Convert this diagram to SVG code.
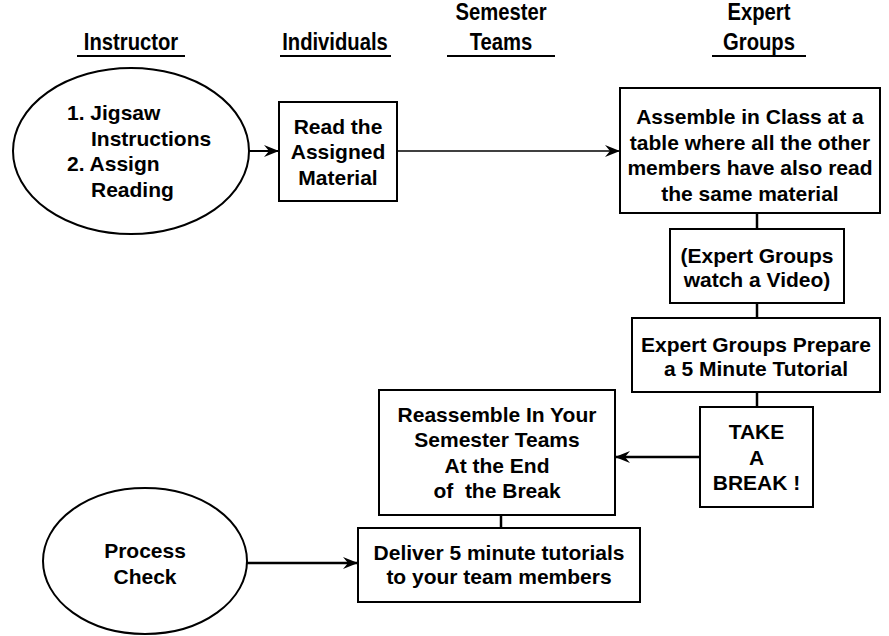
<svg xmlns="http://www.w3.org/2000/svg" width="889" height="636" viewBox="0 0 889 636">
<style>
text{font-family:"Liberation Sans",Arial,sans-serif;font-weight:bold;fill:#000}
.b{font-size:21px;text-anchor:middle}
.l{font-size:21px;text-anchor:start}
.h{font-size:23px;text-anchor:middle}
.box{fill:#fff;stroke:#000;stroke-width:2}
.ul{stroke:#000;stroke-width:2}
.c{stroke:#000;fill:none}
</style>
<defs>
<marker id="ah" markerUnits="userSpaceOnUse" markerWidth="16" markerHeight="12" refX="15" refY="6" orient="auto">
<path d="M0,0 L15,6 L0,12 L5,6 z" fill="#000"/>
</marker>
</defs>
<g id="headers">
<text class="h" transform="translate(131,50) scale(0.88,1)">Instructor</text>
<line class="ul" x1="77" y1="56" x2="185" y2="56"/>
<text class="h" transform="translate(335,50) scale(0.88,1)">Individuals</text>
<line class="ul" x1="280" y1="56" x2="391" y2="56"/>
<text class="h" transform="translate(501,20) scale(0.88,1)">Semester</text>
<text class="h" transform="translate(501,50) scale(0.88,1)">Teams</text>
<line class="ul" x1="447" y1="56" x2="555" y2="56"/>
<text class="h" transform="translate(759,20) scale(0.88,1)">Expert</text>
<text class="h" transform="translate(759,50) scale(0.88,1)">Groups</text>
<line class="ul" x1="712" y1="56" x2="806" y2="56"/>
</g>
<g id="connectors">
<line class="c" stroke-width="2" x1="249" y1="151" x2="279" y2="151" marker-end="url(#ah)"/>
<line class="c" stroke-width="1.5" x1="397" y1="151" x2="620" y2="151" marker-end="url(#ah)"/>
<line class="c" stroke-width="2.5" x1="757" y1="213" x2="757" y2="229"/>
<line class="c" stroke-width="2.5" x1="757" y1="303" x2="757" y2="318"/>
<line class="c" stroke-width="2.5" x1="757" y1="392" x2="757" y2="407"/>
<line class="c" stroke-width="2.5" x1="700" y1="457" x2="615" y2="457" marker-end="url(#ah)"/>
<line class="c" stroke-width="2.5" x1="501" y1="515" x2="501" y2="528"/>
<line class="c" stroke-width="2.5" x1="247" y1="563" x2="358" y2="563" marker-end="url(#ah)"/>
</g>
<g id="instructor">
<ellipse class="box" cx="131" cy="151" rx="118" ry="83"/>
<text class="l" x="67" y="120">1. Jigsaw</text>
<text class="l" x="91" y="146">Instructions</text>
<text class="l" x="67" y="171">2. Assign</text>
<text class="l" x="91" y="197">Reading</text>
</g>
<g id="read">
<rect class="box" x="279" y="102" width="118" height="99"/>
<text class="b" x="338" y="134">Read the</text>
<text class="b" x="338" y="159">Assigned</text>
<text class="b" x="338" y="185">Material</text>
</g>
<g id="assemble">
<rect class="box" x="620" y="88" width="260" height="125"/>
<text class="b" x="750" y="124">Assemble in Class at a</text>
<text class="b" x="750" y="149.5">table where all the other</text>
<text class="b" x="750" y="175">members have also read</text>
<text class="b" x="750" y="200.5">the same material</text>
</g>
<g id="video">
<rect class="box" x="670" y="229" width="174" height="74"/>
<text class="b" x="757" y="263">(Expert Groups</text>
<text class="b" x="757" y="287">watch a Video)</text>
</g>
<g id="prepare">
<rect class="box" x="632" y="318" width="248" height="74"/>
<text class="b" x="756" y="352">Expert Groups Prepare</text>
<text class="b" x="756" y="376">a 5 Minute Tutorial</text>
</g>
<g id="break">
<rect class="box" x="700" y="407" width="113" height="100"/>
<text class="b" x="756.5" y="439">TAKE</text>
<text class="b" x="756.5" y="465">A</text>
<text class="b" x="756.5" y="490">BREAK !</text>
</g>
<g id="reassemble">
<rect class="box" x="379" y="390" width="236" height="125"/>
<text class="b" x="497" y="422">Reassemble In Your</text>
<text class="b" x="497" y="447">Semester Teams</text>
<text class="b" x="497" y="473">At the End</text>
<text class="b" x="497" y="498" xml:space="preserve">of  the Break</text>
</g>
<g id="deliver">
<rect class="box" x="358" y="528" width="282" height="74"/>
<text class="b" x="499" y="560">Deliver 5 minute tutorials</text>
<text class="b" x="499" y="584">to your team members</text>
</g>
<g id="process">
<ellipse class="box" cx="145" cy="561" rx="102" ry="73"/>
<text class="b" x="145" y="558">Process</text>
<text class="b" x="145" y="584">Check</text>
</g>
</svg>
